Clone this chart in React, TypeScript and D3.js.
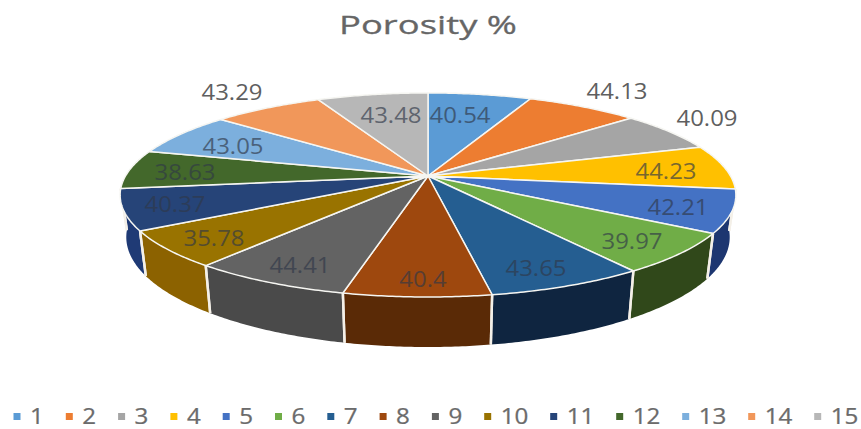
import React from "react";
import * as d3 from "d3";

// Porosity readings per sample, in sample order.
const samples = ["1", "2", "3", "4", "5", "6", "7", "8", "9", "10", "11", "12", "13", "14", "15"];
const porosity = [40.54, 44.13, 40.09, 44.23, 42.21, 39.97, 43.65, 40.4, 44.41, 35.78, 40.37, 38.63, 43.05, 43.29, 43.48];
const valueLabels = ["40.54", "44.13", "40.09", "44.23", "42.21", "39.97", "43.65", "40.4", "44.41", "35.78", "40.37", "38.63", "43.05", "43.29", "43.48"];

const topColors = ["#5B9BD5", "#ED7D31", "#A5A5A5", "#FFC000", "#4472C4", "#70AD47", "#255E91", "#9E480E", "#636363", "#997300", "#264478", "#43682B", "#7CAFDD", "#F1975A", "#B7B7B7"];
const wallColors = ["#37608a", "#8f4b1d", "#636363", "#997300", "#1d3670", "#30481a", "#0f2540", "#5a2a06", "#4a4a4a", "#8c6200", "#1f3a75", "#28401a", "#4a6a86", "#915a36", "#6e6e6e"];

// Centre of each value label, and whether it sits on a slice rather than on the page.
const labelCentres: [number, number][] = [
  [460, 115], [617, 91], [707, 118], [666, 171], [678, 207],
  [632, 241], [536, 268], [423, 279], [300, 265], [214, 238],
  [175, 204], [185, 172], [233, 146], [232, 92], [391, 115],
];
const labelOutside = [false, true, true, false, false, false, false, false, false, false, false, false, false, true, false];

// Perspective model of the disc: apex, radii and depth foreshortening.
const apexX = 428;
const apexY = 176;
const radiusX = 302.5;
const radiusY = 98.5;
const depth = 0.186;
const wallHeight = 40.7;
const baseShrink = 0.98;

const rimPoint = (angle: number, level: 0 | 1): [number, number] => {
  const u = Math.sin(angle);
  const v = Math.cos(angle);
  const w = 1 + depth * v;
  const sx = level ? baseShrink : 1;
  return [apexX + (sx * radiusX * u) / w, apexY - (radiusY * v) / w + (level * wallHeight) / w];
};

const arcAngles = (a0: number, a1: number) => {
  const list = d3.range(a0, a1, 0.01);
  list.push(a1);
  return list;
};

const line = d3.line();

const legendStart = 17;
const legendSingle = 52.3;
const legendDouble = 66;

export default function App() {
  const arcs = d3.pie<number>().sort(null).value((d) => d)(porosity);

  // Walls are painted from the far side of the disc to the near side.
  const walls = arcs
    .map((a, i) => ({ a, i }))
    .sort((p, q) => -Math.cos((p.a.startAngle + p.a.endAngle) / 2) + Math.cos((q.a.startAngle + q.a.endAngle) / 2));

  let legendX = legendStart;
  const legendItems = samples.map((s, i) => {
    const x = legendX;
    legendX += s.length > 1 ? legendDouble : legendSingle;
    return { s, i, x };
  });

  return (
    <svg
      width={861}
      height={429}
      style={{ position: "absolute", left: 0, top: 0, background: "#fff", fontFamily: "'Open Sans', sans-serif" }}
    >
      <text
        transform="translate(428,34) scale(1.4,1)"
        textAnchor="middle"
        fontSize={26}
        fill="#666666"
        stroke="#666666"
        strokeWidth={0.3}
      >
        Porosity %
      </text>

      {walls.map(({ a, i }) => {
        const angles = arcAngles(a.startAngle, a.endAngle);
        const top = angles.map((t) => rimPoint(t, 0));
        const bottom = angles.map((t) => rimPoint(t, 1)).reverse();
        return (
          <path key={`wall-${i}`} d={`${line([...top, ...bottom])}Z`} fill={wallColors[i]} />
        );
      })}
      {walls.map(({ a, i }) => {
        const sides = [a.startAngle, a.endAngle].filter((t) => Math.cos(t) < 0.1 && Math.abs(Math.sin(t)) < 0.995);
        return sides.map((t, k) => (
          <path
            key={`edge-${i}-${k}`}
            d={line([rimPoint(t, 0), rimPoint(t, 1)]) ?? ""}
            stroke="#f4f0e8"
            strokeWidth={2.4}
            fill="none"
          />
        ));
      })}

      {arcs.map((a, i) => {
        const rim = arcAngles(a.startAngle, a.endAngle).map((t) => rimPoint(t, 0));
        return (
          <path
            key={`top-${i}`}
            d={`${line([[apexX, apexY], ...rim])}Z`}
            fill={topColors[i]}
            stroke="#f6f6f2"
            strokeWidth={1.5}
            strokeLinejoin="round"
          />
        );
      })}

      {valueLabels.map((label, i) => (
        <text
          key={`label-${i}`}
          transform={`translate(${labelCentres[i][0]},${labelCentres[i][1] + 7.5}) scale(1.14,1)`}
          textAnchor="middle"
          fontSize={21}
          fill={labelOutside[i] ? "#5f5f5f" : "#303848"}
          opacity={labelOutside[i] ? 1 : 0.65}
        >
          {label}
        </text>
      ))}

      {legendItems.map(({ s, i, x }) => (
        <g key={`legend-${s}`}>
          <rect x={x - 3.5} y={413} width={7} height={7} fill={topColors[i]} />
          <text
            transform={`translate(${x + 13},424) scale(1.15,1)`}
            fontSize={21}
            fill="#6b6b6b"
            stroke="#6b6b6b"
            strokeWidth={0.25}
          >
            {s}
          </text>
        </g>
      ))}
    </svg>
  );
}
